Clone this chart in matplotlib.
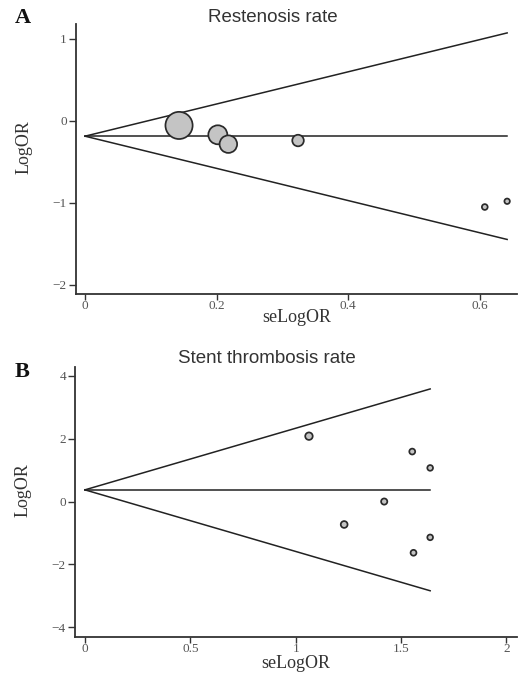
import numpy as np
import matplotlib
matplotlib.use("Agg")
import matplotlib.pyplot as plt

# ---- data ----
restenosis_se = [0.143, 0.202, 0.218, 0.324, 0.608, 0.642]
restenosis_logor = [-0.056, -0.17, -0.284, -0.24, -1.05, -0.98]
restenosis_pooled = -0.187

thrombosis_se = [1.063, 1.553, 1.638, 1.42, 1.23, 1.638, 1.559]
thrombosis_logor = [2.08, 1.59, 1.07, 0.0, -0.73, -1.14, -1.63]
thrombosis_pooled = 0.372

a_xticks = [0, 0.2, 0.4, 0.6]
a_xticklabels = ["0", "0.2", "0.4", "0.6"]
a_yticks = [1, 0, -1, -2]
a_yticklabels = ["1", "0", "\u22121", "\u22122"]

b_xticks = [0, 0.5, 1, 1.5, 2]
b_xticklabels = ["0", "0.5", "1", "1.5", "2"]
b_yticks = [4, 2, 0, -2, -4]
b_yticklabels = ["4", "2", "0", "\u22122", "\u22124"]

SERIF = "Liberation Serif"
SANS = "Liberation Sans"

fig = plt.figure(figsize=(5.18, 6.75), dpi=100)
W, H = 518, 675


def funnel(ax, se, logor, pooled, k, c, xlim, ylim, xticks, xtl, yticks, ytl, xlabelpad):
    se = np.asarray(se)
    logor = np.asarray(logor)
    smax = se.max()
    xs = np.array([0, smax])
    ax.plot(xs, pooled + 1.96 * xs, color="#222222", lw=1.1, zorder=2)
    ax.plot(xs, pooled - 1.96 * xs, color="#222222", lw=1.1, zorder=2)
    ax.plot(xs, [pooled, pooled], color="#222222", lw=1.1, zorder=2)
    r_px = k / se + c
    sizes = (2 * r_px * 0.72) ** 2
    ax.scatter(se, logor, s=sizes, facecolor="#c4c4c4", edgecolor="#2a2a2a",
               linewidth=1.25, zorder=3)
    ax.set_xlim(*xlim)
    ax.set_ylim(*ylim)
    ax.set_xticks(xticks)
    ax.set_xticklabels(xtl, fontfamily=SERIF, fontsize=9.5, color="#555555")
    ax.set_yticks(yticks)
    ax.set_yticklabels(ytl, fontfamily=SERIF, fontsize=9.5, color="#555555")
    for s in ["top", "right"]:
        ax.spines[s].set_visible(False)
    for s in ["left", "bottom"]:
        ax.spines[s].set_linewidth(1.3)
        ax.spines[s].set_color("#333333")
    ax.tick_params(axis="y", direction="out", length=5, width=1.0, color="#333333", pad=1.5)
    ax.tick_params(axis="x", direction="out", length=4.5, width=1.0, color="#333333", pad=0)
    ax.set_ylabel("LogOR", fontfamily=SERIF, fontsize=13, color="#333333")
    ax.set_xlabel("seLogOR", fontfamily=SERIF, fontsize=13, color="#333333", labelpad=xlabelpad)
    ax.yaxis.set_label_coords(-0.098, 0.544)


# Panel A
axA = fig.add_axes([76 / W, 1 - 294 / H, (517 - 76) / W, 270 / H])
funnel(axA, restenosis_se, restenosis_logor, restenosis_pooled, 2.0, -0.4,
       (-0.0137, 0.657), (-2.11, 1.18), a_xticks, a_xticklabels, a_yticks, a_yticklabels, -2)

# Panel B
axB = fig.add_axes([75 / W, 1 - 636.7 / H, (517 - 75) / W, 270 / H])
funnel(axB, thrombosis_se, thrombosis_logor, thrombosis_pooled, 2.7, 1.2,
       (-0.047, 2.05), (-4.3, 4.29), b_xticks, b_xticklabels, b_yticks, b_yticklabels, 0)

fig.text(273 / W, 1 - 18 / H, "Restenosis rate", fontfamily=SANS, fontsize=13.5,
         color="#333333", ha="center", va="center")
fig.text(267 / W, 1 - 359 / H, "Stent thrombosis rate", fontfamily=SANS, fontsize=13.5,
         color="#333333", ha="center", va="center")
fig.text(23 / W, 1 - 18 / H, "A", fontfamily=SERIF, fontsize=16, fontweight="bold",
         color="#111111", ha="center", va="center")
fig.text(22 / W, 1 - 372 / H, "B", fontfamily=SERIF, fontsize=16, fontweight="bold",
         color="#111111", ha="center", va="center")

fig.savefig("out.png", dpi=100)
